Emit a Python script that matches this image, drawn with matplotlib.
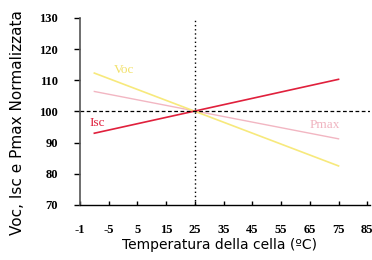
import matplotlib.pyplot as plt

# data
temps = [-10, 75]
voc = [112.3, 82.5]
isc = [93.0, 110.3]
pmax = [106.4, 91.2]

xticks = [-15, -5, 5, 15, 25, 35, 45, 55, 65, 75, 85]
xlabels = ['-1', '-5', '5', '15', '25', '35', '45', '55', '65', '75', '85']
yticks = [70, 80, 90, 100, 110, 120, 130]

fig = plt.figure(figsize=(3.72, 2.60), dpi=100)
ax = fig.add_axes([0.215, 0.212, 0.78, 0.719])

ax.plot(temps, pmax, color='#f2b6c2', lw=1.0)
ax.plot(temps, voc, color='#f7e97c', lw=1.2)
ax.plot(temps, isc, color='#e0203c', lw=1.2)

# reference lines through 25 C / 100 %
ax.axhline(100, color='black', lw=0.9, ls=(0, (3, 2)))
ax.axvline(25, color='black', lw=1.0, ls=(0, (1, 2)))

ax.text(0.5, 113.3, 'Voc', color='#f2e16a', fontsize=9.5, family='Liberation Serif',
        ha='center', va='center')
ax.text(-9.1, 96.4, 'Isc', color='#e0203c', fontsize=9.5, family='Liberation Serif',
        ha='center', va='center')
ax.text(70.2, 95.5, 'Pmax', color='#f0b4c0', fontsize=9.5, family='Liberation Serif',
        ha='center', va='center')

ax.set_xlim(-15, 86)
ax.set_ylim(70, 130)
ax.set_xticks(xticks)
ax.set_xticklabels(xlabels)
ax.set_yticks(yticks)

for lab in ax.get_xticklabels() + ax.get_yticklabels():
    lab.set_family('Liberation Serif')
    lab.set_fontweight('bold')
    lab.set_fontsize(9)

ax.tick_params(axis='y', direction='out', length=4, width=1, pad=12, colors='black')
ax.tick_params(axis='x', direction='in', length=3, width=1, pad=14)

ax.spines['top'].set_visible(False)
ax.spines['right'].set_visible(False)
ax.spines['left'].set_color('#555555')
ax.spines['left'].set_linewidth(1.2)
ax.spines['bottom'].set_linewidth(1.0)

fig.text(0.59, 0.058, 'Temperatura della cella (ºC)', fontsize=10,
         family='DejaVu Sans', ha='center', va='center')
fig.text(0.046, 0.096, 'Voc, Isc e Pmax Normalizzata', fontsize=11,
         family='DejaVu Sans', rotation=90, ha='center', va='bottom')

fig.savefig('out.png', dpi=100)
